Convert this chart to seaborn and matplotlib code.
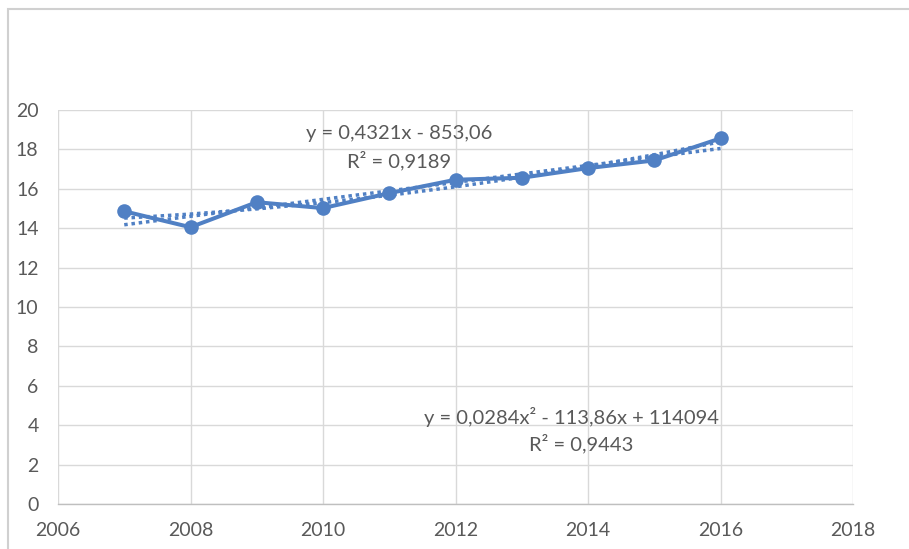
import numpy as np
import pandas as pd
import matplotlib.pyplot as plt
import seaborn as sns
from matplotlib.patches import Rectangle

years = [2007, 2008, 2009, 2010, 2011, 2012, 2013, 2014, 2015, 2016]
values = [14.86, 14.05, 15.32, 15.02, 15.78, 16.46, 16.56, 17.05, 17.44, 18.56]
lin_label = ["y = 0,4321x - 853,06", "R² = 0,9189"]
poly_label = ["y = 0,0284x² - 113,86x + 114094", "R² = 0,9443"]
x_ticks = list(range(2006, 2019, 2))
y_ticks = list(range(0, 21, 2))

BLUE = "#5080C4"
TEXT = "#595959"
GRID = "#D9D9D9"

df = pd.DataFrame({"year": years, "value": values})

# trendlines fitted on the same data (Excel style)
xs = np.array(years, dtype=float)
xc = xs - xs.mean()
lin = np.polyfit(xc, df["value"], 1)
poly = np.polyfit(xc, df["value"], 2)
trend = pd.DataFrame({
    "year": xs,
    "linear": np.polyval(lin, xc),
    "poly": np.polyval(poly, xc),
})

sns.set_style("white")
plt.rcParams["font.family"] = ["Lato", "DejaVu Sans"]

fig = plt.figure(figsize=(9.09, 5.49), dpi=100)
ax = fig.add_axes([58 / 909, 1 - 504 / 549, (853 - 58) / 909, (504 - 110) / 549])

fig.patches.append(Rectangle((8 / 909, -0.1), 1.2, 1 - 9 / 549 + 0.1,
                             transform=fig.transFigure, fill=False,
                             edgecolor="#D0D0D0", linewidth=1.5))

sns.lineplot(data=trend, x="year", y="linear", ax=ax, color=BLUE,
             linestyle=(0, (1, 1.1)), linewidth=2.5)
sns.lineplot(data=trend, x="year", y="poly", ax=ax, color=BLUE,
             linestyle=(0, (1, 1.1)), linewidth=2.5)
sns.lineplot(data=df, x="year", y="value", ax=ax, color=BLUE, linewidth=2.9,
             marker="o", markersize=10.5, markeredgewidth=0)

ax.set_xlim(2006, 2018)
ax.set_ylim(0, 20)
ax.set_xticks(x_ticks)
ax.set_yticks(y_ticks)
ax.set_xlabel("")
ax.set_ylabel("")
ax.grid(True, color=GRID, linewidth=1)
ax.set_axisbelow(True)
for side in ["top", "right", "left"]:
    ax.spines[side].set_visible(False)
ax.spines["bottom"].set_color("#BFBFBF")
ax.spines["bottom"].set_linewidth(1)
ax.tick_params(axis="both", length=0, labelsize=14, labelcolor=TEXT)
ax.tick_params(axis="x", pad=13)
ax.tick_params(axis="y", pad=14)

ax.text(2011.15, 18.8, lin_label[0], ha="center", va="center", fontsize=14.5, color=TEXT)
ax.text(2011.15, 17.45, lin_label[1], ha="center", va="center", fontsize=14.5, color=TEXT)
ax.text(2013.75, 4.42, poly_label[0], ha="center", va="center", fontsize=14.5, color=TEXT)
ax.text(2013.9, 3.05, poly_label[1], ha="center", va="center", fontsize=14.5, color=TEXT)

fig.savefig("out.png", dpi=100)
